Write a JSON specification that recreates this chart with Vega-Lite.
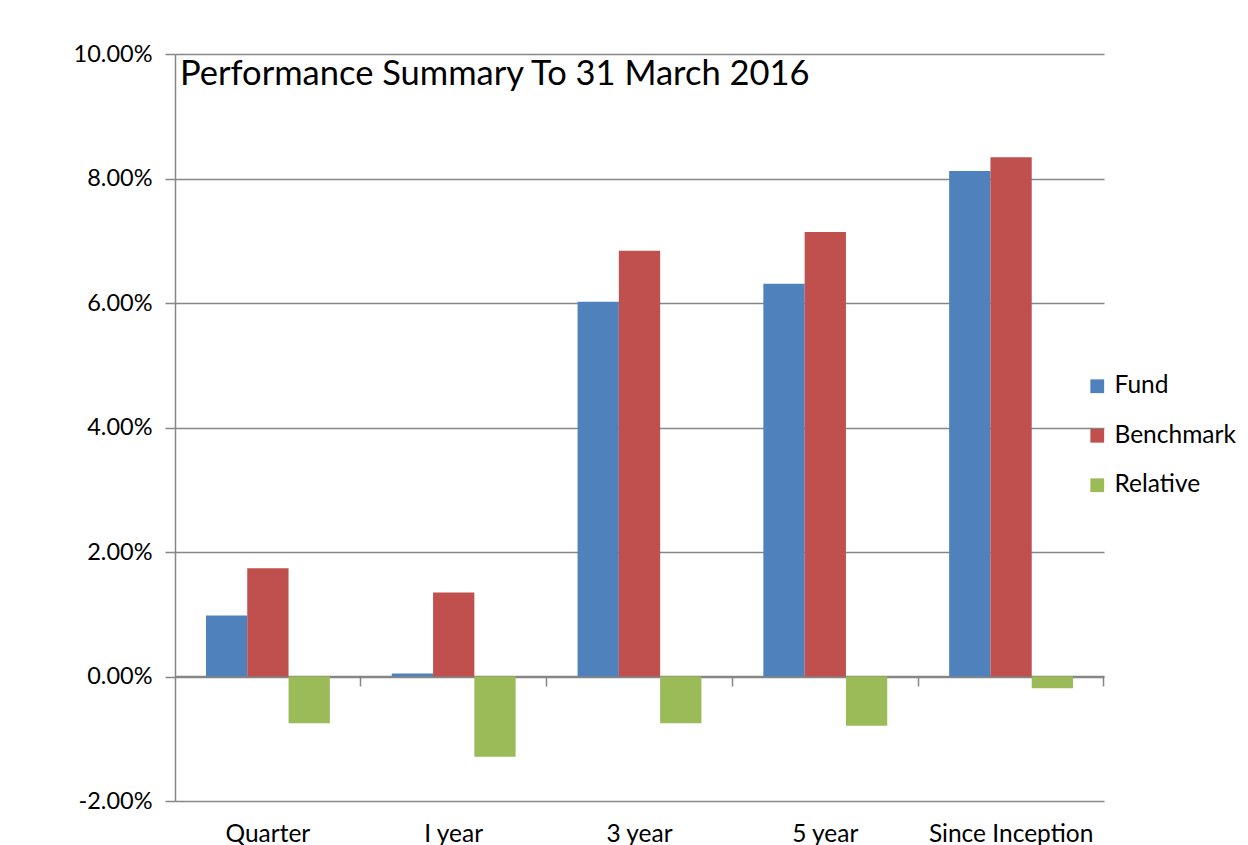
{
  "$schema": "https://vega.github.io/schema/vega-lite/v6.json",
  "autosize": "none",
  "width": 929,
  "height": 747,
  "padding": {"left": 175, "top": 54, "right": 144, "bottom": 44},
  "background": "white",
  "title": {
    "text": "Performance Summary To 31 March 2016",
    "anchor": "start",
    "frame": "group",
    "orient": "top",
    "baseline": "top",
    "offset": -50,
    "dx": 5,
    "font": "Lato",
    "fontSize": 34.5,
    "fontWeight": "normal",
    "color": "#000000"
  },
  "data": {
    "values": [
      {"period": "Quarter", "series": "Fund", "value": 0.0098},
      {"period": "Quarter", "series": "Benchmark", "value": 0.0174},
      {"period": "Quarter", "series": "Relative", "value": -0.0075},
      {"period": "I year", "series": "Fund", "value": 0.0005},
      {"period": "I year", "series": "Benchmark", "value": 0.0135},
      {"period": "I year", "series": "Relative", "value": -0.0129},
      {"period": "3 year", "series": "Fund", "value": 0.0602},
      {"period": "3 year", "series": "Benchmark", "value": 0.0684},
      {"period": "3 year", "series": "Relative", "value": -0.0075},
      {"period": "5 year", "series": "Fund", "value": 0.0631},
      {"period": "5 year", "series": "Benchmark", "value": 0.0714},
      {"period": "5 year", "series": "Relative", "value": -0.0079},
      {"period": "Since Inception", "series": "Fund", "value": 0.0812},
      {"period": "Since Inception", "series": "Benchmark", "value": 0.0834},
      {"period": "Since Inception", "series": "Relative", "value": -0.0019}
    ]
  },
  "mark": {"type": "bar"},
  "encoding": {
    "x": {
      "field": "period",
      "type": "nominal",
      "sort": ["Quarter", "I year", "3 year", "5 year", "Since Inception"],
      "scale": {"paddingInner": 0.3333, "paddingOuter": 0.1667},
      "axis": {
        "title": null,
        "offset": -125,
        "domain": true,
        "domainColor": "#868686",
        "domainWidth": 1.5,
        "ticks": true,
        "tickColor": "#868686",
        "tickSize": 10,
        "tickWidth": 1.5,
        "bandPosition": 1.25,
        "labelPadding": 136,
        "labelAngle": 0,
        "labelFont": "Lato",
        "labelFontSize": 24.5,
        "labelColor": "#000000",
        "labelBaseline": "top",
        "grid": false
      }
    },
    "xOffset": {
      "field": "series",
      "type": "nominal",
      "sort": ["Fund", "Benchmark", "Relative"],
      "scale": {"paddingInner": 0, "paddingOuter": 0}
    },
    "y": {
      "field": "value",
      "type": "quantitative",
      "scale": {"domain": [-0.02, 0.1], "nice": false, "zero": false},
      "axis": {
        "title": null,
        "values": [-0.02, 0, 0.02, 0.04, 0.06, 0.08, 0.1],
        "format": ".2%",
        "labelExpr": "replace(datum.label, '−', '-')",
        "domain": true,
        "domainColor": "#868686",
        "domainWidth": 1.5,
        "ticks": true,
        "tickColor": "#868686",
        "tickSize": 10,
        "tickWidth": 1.5,
        "grid": true,
        "gridColor": "#868686",
        "gridWidth": 1.5,
        "labelPadding": 13,
        "labelFont": "Lato",
        "labelFontSize": 23.5,
        "labelColor": "#000000"
      }
    },
    "color": {
      "field": "series",
      "type": "nominal",
      "sort": ["Fund", "Benchmark", "Relative"],
      "scale": {
        "domain": ["Fund", "Benchmark", "Relative"],
        "range": ["#4F81BD", "#C0504D", "#9BBB59"]
      },
      "legend": {
        "title": null,
        "orient": "none",
        "legendX": 910,
        "legendY": 320,
        "symbolType": "square",
        "symbolSize": 190,
        "symbolStrokeWidth": 0,
        "labelFont": "Lato",
        "labelFontSize": 24.5,
        "labelColor": "#000000",
        "labelOffset": 5,
        "rowPadding": 24.5
      }
    }
  },
  "config": {
    "view": {"stroke": null},
    "axis": {"gridDash": []}
  }
}
